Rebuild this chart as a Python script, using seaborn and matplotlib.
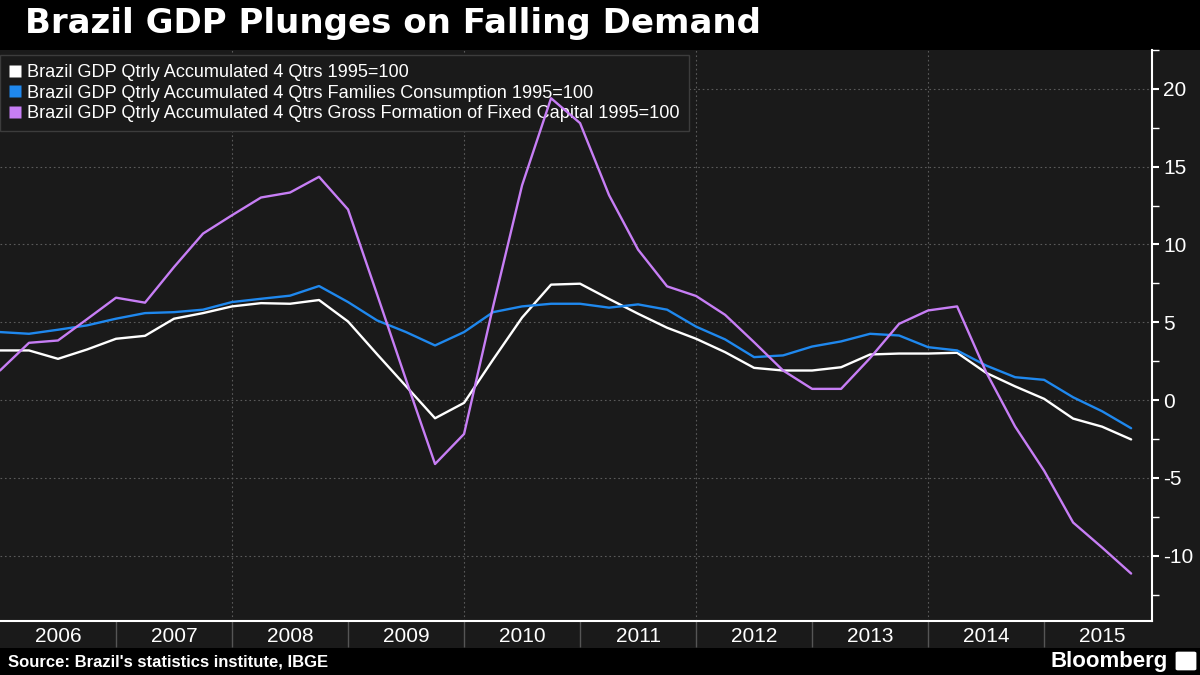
import matplotlib
matplotlib.use('Agg')
import matplotlib.pyplot as plt
from matplotlib.lines import Line2D
from matplotlib.patches import Rectangle, FancyBboxPatch
from matplotlib.ticker import MultipleLocator
import numpy as np
import pandas as pd
import seaborn as sns

# quarterly points, 2005Q4 .. 2015Q3 (plotted at quarter end)
quarters = pd.period_range('2005Q4', '2015Q3', freq='Q')

gdp = [3.19, 3.19, 2.65, 3.25, 3.94, 4.13, 5.23, 5.59, 6.02, 6.23,
       6.19, 6.43, 5.05, 2.95, 0.89, -1.17, -0.18, 2.6, 5.3, 7.42,
       7.48, 6.5, 5.55, 4.65, 3.94, 3.08, 2.07, 1.90, 1.90, 2.11,
       2.93, 2.99, 2.99, 3.04, 1.75, 0.88, 0.08, -1.19, -1.71, -2.53]
consumption = [4.37, 4.26, 4.52, 4.80, 5.23, 5.59, 5.65, 5.81, 6.30, 6.51,
               6.71, 7.33, 6.30, 5.12, 4.37, 3.51, 4.37, 5.65, 6.02, 6.19,
               6.19, 5.94, 6.15, 5.81, 4.72, 3.90, 2.76, 2.87, 3.44, 3.77,
               4.26, 4.15, 3.40, 3.19, 2.22, 1.47, 1.30, 0.18, -0.72, -1.81]
fixed_capital = [1.90, 3.68, 3.83, 5.2, 6.58, 6.26, 8.55, 10.70, 11.88, 13.02,
                 13.34, 14.35, 12.25, 6.8, 1.3, -4.11, -2.18, 6.0, 13.8, 19.4,
                 17.8, 13.17, 9.67, 7.31, 6.69, 5.48, 3.72, 1.90, 0.72, 0.72,
                 2.7, 4.90, 5.76, 6.02, 1.8, -1.7, -4.54, -7.87, -9.48, -11.15]

series_names = ['Brazil GDP Qtrly Accumulated 4 Qtrs 1995=100',
                'Brazil GDP Qtrly Accumulated 4 Qtrs Families Consumption 1995=100',
                'Brazil GDP Qtrly Accumulated 4 Qtrs Gross Formation of Fixed Capital 1995=100']
colors = ['#ffffff', '#1f88ee', '#c77ef5']
years = list(range(2006, 2016))
y_ticks = [-10, -5, 0, 5, 10, 15, 20]

title = 'Brazil GDP Plunges on Falling Demand'
source = "Source: Brazil's statistics institute, IBGE"

x = quarters.year + quarters.quarter / 4
df = pd.DataFrame({
    'x': np.tile(x, 3),
    'value': gdp + consumption + fixed_capital,
    'series': np.repeat(series_names, len(x)),
})

sns.set_style('dark', rc={'axes.facecolor': '#1a1a1a', 'figure.facecolor': 'black'})
plt.rcParams['font.family'] = ['Liberation Sans', 'DejaVu Sans']
plt.rcParams['axes.unicode_minus'] = False

bg = '#1a1a1a'
fig = plt.figure(figsize=(12, 6.75), dpi=100, facecolor='black')
fig.add_artist(Rectangle((0, 27 / 675), 1, 598 / 675, transform=fig.transFigure,
                         facecolor=bg, edgecolor='none', zorder=-5))

ax = fig.add_axes([0, 54 / 675, 1152 / 1200, 571 / 675])
ax.set_facecolor(bg)

sns.lineplot(data=df, x='x', y='value', hue='series', hue_order=series_names,
             palette=colors, linewidth=1.7, legend=False, ax=ax)

ax.set_xlim(2006, 2015.93)
ax.set_ylim(-14.2, 22.5)
ax.set_xlabel('')
ax.set_ylabel('')

# y axis on the right
ax.yaxis.tick_right()
ax.set_yticks(y_ticks)
ax.yaxis.set_minor_locator(MultipleLocator(2.5))
ax.tick_params(axis='y', which='major', direction='out', length=5, width=1.5,
               color='white', labelcolor='white', labelsize=15, pad=3)
ax.tick_params(axis='y', which='minor', direction='out', length=5, width=1,
               color='white')

# x axis: year boxes
ax.set_xticks(years[1:])
ax.set_xticklabels([''] * len(years[1:]))
ax.set_xticks([yr + 0.5 for yr in years], minor=True)
ax.set_xticklabels([str(yr) for yr in years], minor=True)
ax.tick_params(axis='x', which='major', direction='out', length=19, width=1,
               color='#555555', bottom=True)
ax.tick_params(axis='x', which='minor', length=0, labelsize=15,
               labelcolor='white', pad=4, bottom=True)

# grid
ax.grid(False)
for yv in y_ticks:
    ax.axhline(yv, color='#5a5a5a', lw=0.8, ls=(0, (1.5, 2.5)), zorder=0.5)
for yr in years[2::2]:
    ax.axvline(yr, color='#5a5a5a', lw=0.8, ls=(0, (1.5, 2.5)), zorder=0.5)

for side in ['top', 'left']:
    ax.spines[side].set_visible(False)
for side in ['right', 'bottom']:
    ax.spines[side].set_visible(True)
    ax.spines[side].set_color('white')
    ax.spines[side].set_linewidth(1.5)

handles = [Line2D([], [], marker='s', color='none', markerfacecolor=c,
                  markeredgecolor='none', markersize=9) for c in colors]
leg = ax.legend(handles, series_names, loc='upper left',
                bbox_to_anchor=(0, 1 - 5 / 571), borderaxespad=0,
                frameon=True, facecolor=bg, edgecolor='#3c3c3c', framealpha=1,
                fancybox=False, fontsize=13.1, labelcolor='white',
                handlelength=0.7, handletextpad=0.3, labelspacing=0.2,
                borderpad=0.5)
leg.get_frame().set_linewidth(1)
leg.set_zorder(1)  # lines run over the legend box, as in the original

fig.text(25 / 1200, 1 - 24 / 675, title, ha='left', va='center',
         fontsize=24.5, fontweight='bold', color='white', family='DejaVu Sans')
fig.text(8 / 1200, 1 - 662 / 675, source, ha='left', va='center',
         fontsize=12, fontweight='bold', color='white')
fig.text(1168 / 1200, 1 - 661 / 675, 'Bloomberg', ha='right', va='center',
         fontsize=16, fontweight='bold', color='white')
fig.add_artist(FancyBboxPatch((1178 / 1200, 1 - 669 / 675), 16 / 1200, 16 / 675,
                              boxstyle='round,pad=0.002', transform=fig.transFigure,
                              facecolor='white', edgecolor='none'))

fig.savefig('out.png', dpi=100, facecolor='black')
